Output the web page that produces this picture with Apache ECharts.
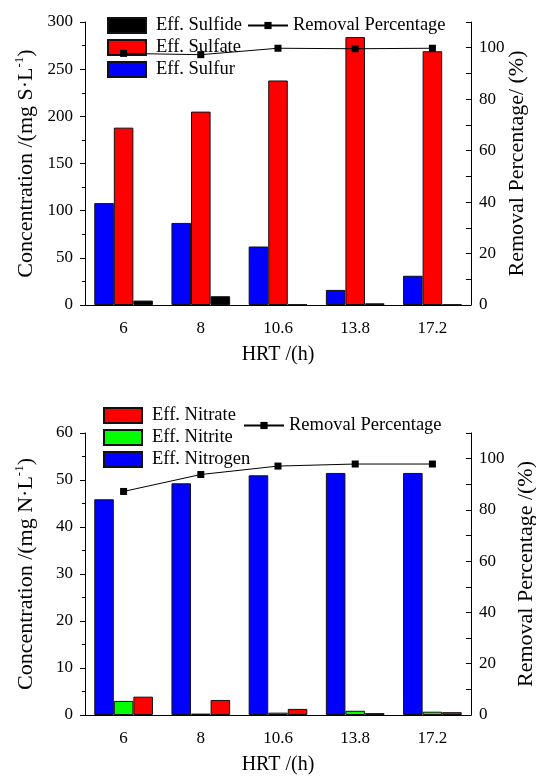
<!DOCTYPE html>
<html>
<head>
<meta charset="utf-8">
<script src="https://cdn.jsdelivr.net/npm/echarts@6/dist/echarts.min.js"></script>
<style>
  html, body { margin: 0; padding: 0; background: #fff; }
  #chart { width: 536px; height: 777px; }
</style>
</head>
<body>
<div id="chart"></div>
<script>
// HRT categories (h)
var hrt = ['6', '8', '10.6', '13.8', '17.2'];

// top panel: sulfur species (mg S/L) and removal (%)
var effSulfur = [108, 87, 62, 16, 31];
var effSulfate = [188, 205, 238, 284, 269];
var effSulfide = [4.7, 9.3, 0.6, 1.8, 0.5];
var removalS = [97.8, 97.3, 99.8, 99.6, 99.8];

// bottom panel: nitrogen species (mg N/L) and removal (%)
var effNitrogen = [45.9, 49.3, 51.0, 51.5, 51.5];
var effNitrite = [3.0, 0.3, 0.5, 0.9, 0.7];
var effNitrate = [3.9, 3.2, 1.3, 0.4, 0.6];
var removalN = [87.2, 93.8, 97.1, 97.9, 97.9];

var FONT = 'Liberation Serif';
var black = '#000';

function xAxes(gridIndex) {
  return [
    {
      type: 'category', gridIndex: gridIndex, data: hrt,
      name: 'HRT /(h)', nameLocation: 'middle', nameGap: 40, nameMoveOverlap: false,
      nameTextStyle: { fontFamily: FONT, fontSize: 20, color: black },
      axisLine: { lineStyle: { color: black, width: 1 } },
      axisTick: { length: 5, lineStyle: { color: black } },
      axisLabel: { fontFamily: FONT, fontSize: 17, color: black, margin: 15 },
      splitLine: { show: false }
    },
    {
      // only draws the ticks under each category
      type: 'category', gridIndex: gridIndex, data: hrt,
      axisLine: { show: false },
      axisTick: { alignWithLabel: true, length: 5, lineStyle: { color: black } },
      axisLabel: { show: false },
      splitLine: { show: false }
    }
  ];
}

function leftAxis(gridIndex, max, interval, name) {
  return {
    type: 'value', gridIndex: gridIndex, position: 'left',
    min: 0, max: max, interval: interval,
    name: name, nameLocation: 'middle', nameRotate: 90, nameGap: 46, nameMoveOverlap: false,
    nameTextStyle: {
      fontFamily: FONT, fontSize: 22, color: black, lineHeight: 26,
      rich: { sup: { fontFamily: FONT, fontSize: 13, lineHeight: 13, verticalAlign: 'top', color: black } }
    },
    axisLine: { show: true, lineStyle: { color: black, width: 1 } },
    axisTick: { show: true, length: 5, lineStyle: { color: black } },
    minorTick: { show: true, splitNumber: 2, length: 3, lineStyle: { color: black } },
    axisLabel: { fontFamily: FONT, fontSize: 17, color: black, margin: 12 },
    splitLine: { show: false },
    minorSplitLine: { show: false }
  };
}

function rightAxis(gridIndex, name, gap) {
  return {
    type: 'value', gridIndex: gridIndex, position: 'right',
    min: 0, max: 110, interval: 10,
    name: name, nameLocation: 'middle', nameRotate: 90, nameGap: gap, nameMoveOverlap: false,
    nameTextStyle: { fontFamily: FONT, fontSize: 22, color: black },
    axisLine: { show: true, lineStyle: { color: black, width: 1 } },
    axisTick: { show: true, inside: true, length: 5, lineStyle: { color: black } },
    axisLabel: {
      fontFamily: FONT, fontSize: 17, color: black, margin: 8,
      formatter: function (v) { return v % 20 === 0 && v <= 100 ? v : ''; }
    },
    splitLine: { show: false }
  };
}

function bar(name, data, color, xi, yi) {
  return {
    name: name, type: 'bar', xAxisIndex: xi, yAxisIndex: yi, data: data,
    barGap: '0%', barCategoryGap: '24%',
    itemStyle: { color: color, borderColor: '#111', borderWidth: 1 }
  };
}

function removal(data, xi, yi) {
  return {
    name: 'Removal Percentage', type: 'line', xAxisIndex: xi, yAxisIndex: yi, data: data,
    symbol: 'rect', symbolSize: 7, z: 5,
    lineStyle: { color: black, width: 1 },
    itemStyle: { color: black }
  };
}

var legendText = { fontFamily: FONT, fontSize: 18.5, color: black, lineHeight: 19 };

function barLegend(left, top, names) {
  return {
    orient: 'vertical', left: left, top: top, padding: 0,
    icon: 'rect', itemWidth: 38, itemHeight: 15, itemGap: 3,
    data: names, selectedMode: false,
    textStyle: Object.assign({ padding: [0, 0, 0, 5] }, legendText)
  };
}

function lineLegend(left, top) {
  return {
    left: left, top: top, padding: 0, itemWidth: 40, itemHeight: 9,
    data: ['Removal Percentage'], textStyle: legendText, selectedMode: false
  };
}

var option = {
  animation: false,
  backgroundColor: '#fff',
  grid: [
    { left: 85, top: 22, width: 386, height: 283, outerBoundsMode: 'none', containLabel: false },
    { left: 85, top: 433, width: 386, height: 282, outerBoundsMode: 'none', containLabel: false }
  ],
  legend: [
    barLegend(107, 16, ['Eff. Sulfide', 'Eff. Sulfate', 'Eff. Sulfur']),
    lineLegend(247, 16),
    barLegend(103, 406, ['Eff. Nitrate', 'Eff. Nitrite', 'Eff. Nitrogen']),
    lineLegend(243, 416)
  ],
  xAxis: xAxes(0).concat(xAxes(1)),
  yAxis: [
    leftAxis(0, 300, 50, 'Concentration /(mg S·L{sup|-1})'),
    rightAxis(0, 'Removal Percentage/ (%)', 35),
    leftAxis(1, 60, 10, 'Concentration /(mg N·L{sup|-1})'),
    rightAxis(1, 'Removal Percentage /(%)', 44)
  ],
  series: [
    bar('Eff. Sulfur', effSulfur, '#0000ff', 0, 0),
    bar('Eff. Sulfate', effSulfate, '#ff0000', 0, 0),
    bar('Eff. Sulfide', effSulfide, '#000000', 0, 0),
    removal(removalS, 0, 1),
    bar('Eff. Nitrogen', effNitrogen, '#0000ff', 2, 2),
    bar('Eff. Nitrite', effNitrite, '#00ff00', 2, 2),
    bar('Eff. Nitrate', effNitrate, '#ff0000', 2, 2),
    removal(removalN, 2, 3)
  ]
};

var chart = echarts.init(document.getElementById('chart'));
chart.setOption(option);
</script>
</body>
</html>
